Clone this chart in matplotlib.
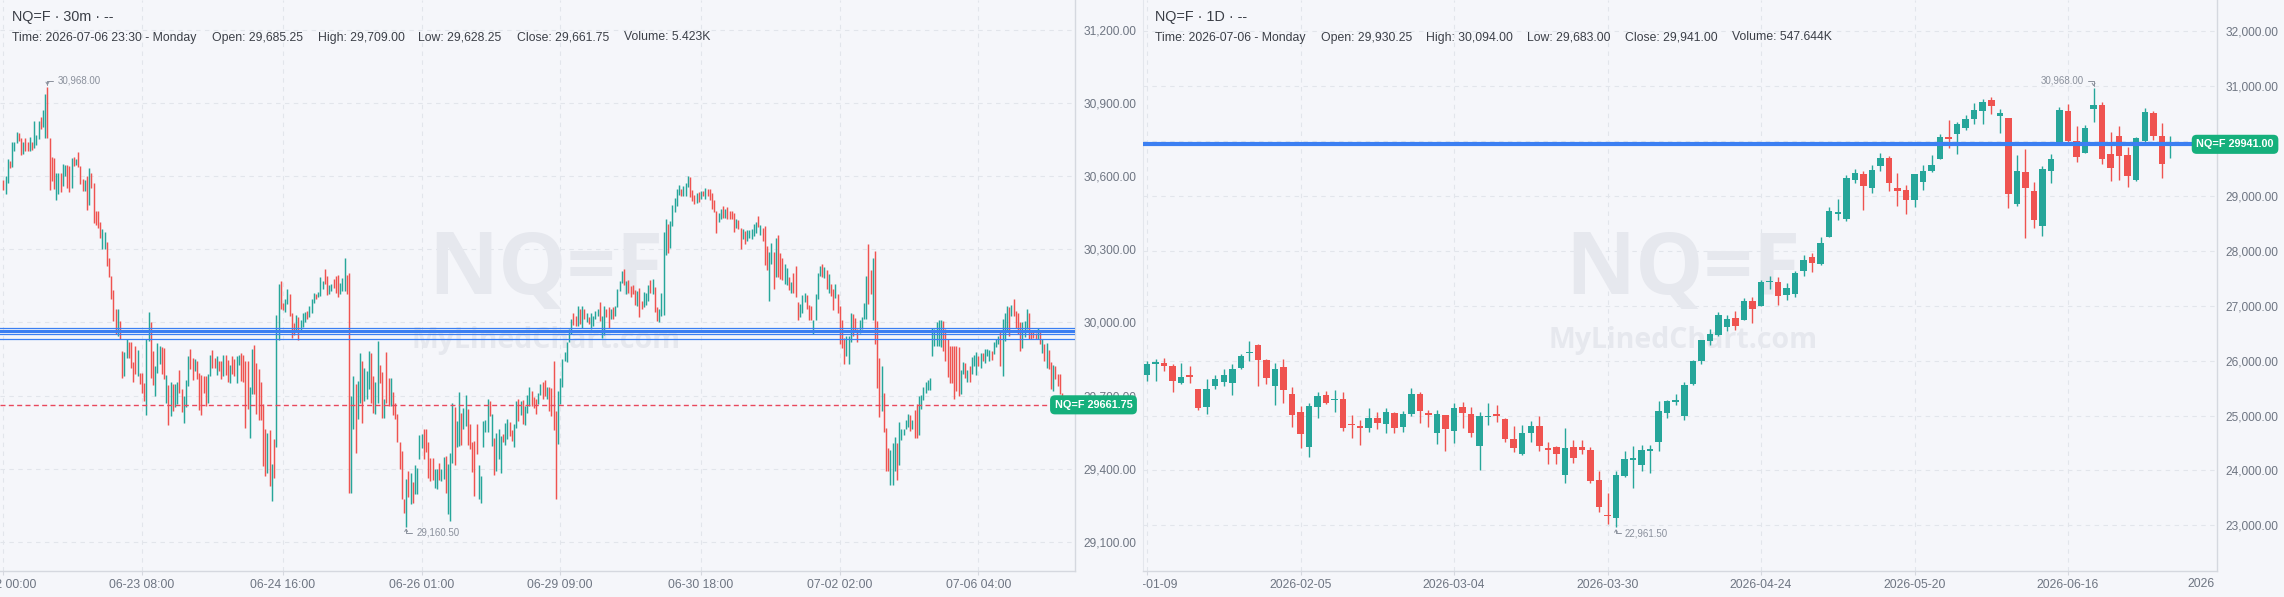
import matplotlib
matplotlib.use("Agg")
import matplotlib.pyplot as plt
import numpy as np
from matplotlib.transforms import Bbox, TransformedBbox

plt.rcParams["font.family"] = ["Liberation Sans", "DejaVu Sans"]

# ---------------- 30m chart (left) : bar high / low / up-bar flag ----------------
hi_30m = [
    30585, 30603, 30671, 30664, 30740, 30742, 30784, 30778, 30759, 30742,
    30756, 30740, 30764, 30742, 30829, 30770, 30829, 30845, 30874, 30938,
    30968, 30760, 30679, 30675, 30614, 30614, 30614, 30653, 30647, 30647,
    30644, 30675, 30678, 30671, 30699, 30644, 30589, 30585, 30600, 30636,
    30616, 30575, 30459, 30459, 30411, 30386, 30370, 30329, 30267, 30190,
    30133, 30055, 30055, 30007, 29883, 29877, 29934, 29918, 29918, 29836,
    29904, 29886, 29794, 29794, 29753, 29934, 30045, 30000, 29883, 29822,
    29914, 29904, 29900, 29897, 29783, 29742, 29756, 29746, 29746, 29757,
    29804, 29726, 29696, 29764, 29863, 29893, 29856, 29849, 29842, 29794,
    29783, 29781, 29781, 29788, 29866, 29886, 29856, 29863, 29842, 29840,
    29866, 29866, 29845, 29825, 29863, 29852, 29863, 29866, 29873, 29866,
    29841, 29840, 29733, 29893, 29907, 29833, 29808, 29756, 29664,
    29561, 29548, 29559, 29418, 29520, 30030, 30157, 30171, 30079, 30098,
    30137, 30116, 30041, 29996, 30030, 30023, 30009, 30038, 30045, 30048,
    30066, 30098, 30123, 30119, 30127, 30185, 30171, 30219, 30192, 30155,
    30160, 30178, 30192, 30194, 30164, 30182, 30264, 30194, 30205, 29699,
    29781, 29746, 29760, 29874, 29842, 29811, 29801, 29883, 29876, 29781,
    29756, 29924, 29824, 29797, 29687, 29879, 29774, 29774, 29716, 29671,
    29623, 29507, 29472, 29274, 29359, 29390, 29383, 29345, 29413, 29404,
    29537, 29541, 29564, 29561, 29507, 29445, 29445, 29400, 29400, 29424,
    29397, 29449, 29452, 29418, 29465, 29671, 29652, 29596, 29715, 29630,
    29650, 29701, 29644, 29582, 29509, 29514, 29582, 29413, 29370, 29596,
    29598, 29685, 29678, 29623, 29524, 29548, 29564, 29534, 29541, 29586,
    29605, 29591, 29559, 29582, 29678, 29685, 29678, 29682,
    29657, 29701, 29733, 29719, 29692, 29687, 29712, 29746, 29756, 29763,
    29733, 29733, 29729, 29842, 29637, 29719, 29774, 29849, 29877, 29918,
    29975, 30014, 30037, 30027, 30068, 30057, 30068, 30055, 30038, 30024,
    30041, 30027, 30048, 30055, 30086, 30027, 30066, 30057, 30062, 30057,
    30062, 30066, 30137, 30171, 30212, 30219, 30171, 30174, 30151, 30153,
    30133, 30130, 30140, 30089, 30126, 30120, 30153, 30175, 30178, 30144,
    30062, 30055, 30123, 30370, 30424, 30404, 30418, 30482, 30510, 30548,
    30564, 30548, 30562, 30575, 30603, 30596, 30545, 30523, 30534, 30537,
    30541, 30541, 30551, 30548, 30548, 30531, 30504, 30459, 30449, 30466,
    30479, 30468, 30473, 30459, 30459, 30449, 30424, 30422, 30390, 30383,
    30377, 30381, 30379, 30383, 30404, 30414, 30438, 30401, 30390, 30397,
    30315, 30288, 30326, 30288, 30346, 30359, 30285, 30263, 30240, 30222,
    30185, 30167, 30205, 30233, 30086,
    30075, 30112, 30120, 30112, 30073, 30068, 30010, 30116, 30205, 30233,
    30240, 30230, 30216, 30199, 30157, 30137, 30160, 30116, 30068, 30011,
    29938, 29945, 29945, 30038, 30034, 30018, 29975, 30011, 30023, 30079,
    30189, 30322, 30216, 30264, 30293, 30005, 29853, 29822, 29712, 29566,
    29486, 29476, 29504, 29530, 29504, 29591, 29564, 29564, 29600, 29623,
    29619, 29600, 29641, 29664, 29698, 29701, 29733, 29756, 29763, 29774,
    29979, 29975, 30003, 30011, 30011, 30007, 29972, 29934, 29904, 29904,
    29904, 29904, 29901, 29805, 29838, 29833, 29805, 29822, 29859, 29866,
    29879, 29863, 29876, 29876, 29890, 29893, 29887, 29883, 29918, 29934,
    29945, 29959, 30014, 30041, 30068, 30064, 30071, 30096, 30048, 30038,
    30000, 30003, 30007, 30055, 30038, 29970, 29962, 29956, 29978, 29959,
    29931, 29911, 29915, 29888, 29838, 29825, 29822, 29788, 29788, 29709,
]
lo_30m = [
    30545, 30527, 30575, 30633, 30637, 30705, 30736, 30747, 30689, 30694,
    30705, 30705, 30703, 30710, 30715, 30730, 30753, 30797, 30803, 30758,
    30760, 30545, 30582, 30548, 30504, 30527, 30538, 30562, 30603, 30553,
    30538, 30553, 30644, 30647, 30637, 30568, 30541, 30541, 30463, 30484,
    30551, 30408, 30401, 30390, 30349, 30301, 30304, 30233, 30185, 30096,
    30007, 29952, 29945, 29931, 29774, 29781, 29856, 29856, 29815, 29756,
    29788, 29781, 29746, 29712, 29678, 29619, 29925, 29774, 29742, 29698,
    29794, 29829, 29790, 29767, 29671, 29579, 29616, 29637, 29651, 29664,
    29712, 29633, 29589, 29651, 29740, 29808, 29764, 29801, 29767, 29641,
    29619, 29712, 29657, 29668, 29781, 29815, 29811, 29783, 29801, 29767,
    29781, 29783, 29756, 29753, 29788, 29781, 29753, 29825, 29760, 29756,
    29568, 29644, 29527, 29705, 29705, 29623, 29600, 29600, 29411,
    29370, 29383, 29328, 29267, 29363, 29489, 29929, 30055, 30052, 30045,
    30075, 30027, 29938, 29948, 29959, 29929, 29966, 29982, 30000, 30014,
    30021, 30041, 30082, 30098, 30105, 30109, 30137, 30157, 30113, 30116,
    30130, 30140, 30123, 30105, 30116, 30130, 30130, 30119, 29301, 29301,
    29561, 29465, 29602, 29671, 29589, 29678, 29685, 29726, 29671, 29627,
    29623, 29671, 29753, 29609, 29609, 29671, 29657, 29657, 29619, 29605,
    29507, 29400, 29274, 29219, 29160.5, 29281, 29253, 29260, 29294, 29294,
    29441, 29486, 29441, 29468, 29363, 29349, 29353, 29322, 29315, 29353,
    29349, 29359, 29301, 29212, 29185, 29422, 29413, 29490, 29493, 29497,
    29561, 29575, 29496, 29482, 29386, 29287, 29461, 29274, 29260, 29489,
    29552, 29550, 29616, 29493, 29372, 29390, 29438, 29383, 29507, 29496,
    29520, 29534, 29513, 29489, 29568, 29596, 29619, 29582,
    29578, 29627, 29657, 29657, 29650, 29623, 29664, 29701, 29685, 29699,
    29687, 29637, 29614, 29559, 29274, 29500, 29664, 29733, 29842, 29838,
    29918, 29952, 29989, 29986, 29986, 29993, 29979, 30014, 30000, 29993,
    29975, 29986, 30014, 30027, 30007, 29938, 29948, 30023, 29979, 30016,
    30014, 30027, 30062, 30130, 30164, 30155, 30116, 30123, 30103, 30116,
    30071, 30068, 30021, 30057, 30062, 30072, 30089, 30123, 30116, 30044,
    30007, 30000, 30027, 30031, 30277, 30287, 30308, 30397, 30452, 30479,
    30523, 30518, 30518, 30520, 30555, 30514, 30500, 30486, 30493, 30496,
    30507, 30518, 30507, 30520, 30504, 30466, 30452, 30367, 30411, 30427,
    30431, 30431, 30427, 30427, 30427, 30370, 30390, 30383, 30301, 30342,
    30322, 30336, 30349, 30342, 30356, 30367, 30394, 30360, 30336, 30237,
    30216, 30089, 30240, 30137, 30185, 30188, 30178, 30175, 30157, 30153,
    30134, 30123, 30123, 30103, 30009,
    30021, 30038, 30085, 30055, 30011, 30011, 29952, 30011, 30096, 30189,
    30185, 30182, 30137, 30123, 30107, 30052, 30099, 30041, 29911, 29897,
    29829, 29863, 29829, 29920, 29945, 29962, 29920, 29956, 29972, 30014,
    30014, 30075, 30116, 30011, 29911, 29729, 29612, 29637, 29551, 29390,
    29390, 29333, 29333, 29390, 29353, 29413, 29518, 29537, 29564, 29572,
    29555, 29564, 29527, 29526, 29537, 29644, 29682, 29712, 29722, 29722,
    29863, 29904, 29904, 29904, 29901, 29883, 29842, 29778, 29750, 29753,
    29685, 29719, 29696, 29708, 29790, 29770, 29756, 29756, 29788, 29822,
    29783, 29822, 29811, 29842, 29833, 29863, 29842, 29846, 29870, 29901,
    29911, 29822, 29781, 29924, 29966, 29945, 30027, 30027, 29979, 29952,
    29883, 29897, 29942, 29975, 29934, 29934, 29938, 29934, 29934, 29911,
    29874, 29842, 29815, 29808, 29726, 29719, 29767, 29740, 29705, 29628.25,
]
up_30m = [
    0, 1, 1, 0, 1, 1, 1, 0, 0, 1,  0, 0, 1, 0, 1, 1, 1, 0, 1, 1,
    0, 0, 0, 0, 1, 1, 0, 1, 1, 0,  0, 1, 0, 1, 0, 0, 0, 1, 0, 1,
    0, 0, 0, 0, 0, 1, 1, 0, 0, 0,  0, 0, 1, 0, 0, 1, 1, 0, 0, 0,
    0, 1, 0, 0, 0, 1, 1, 0, 0, 1,  1, 1, 0, 0, 1, 0, 1, 0, 1, 1,
    0, 0, 1, 1, 1, 0, 0, 1, 0, 0,  0, 0, 0, 1, 1, 0, 0, 1, 0, 0,
    1, 0, 0, 1, 0, 0, 1, 1, 0, 0,  0, 0, 1, 1, 0, 0, 0, 0, 0,
    0, 1, 0, 1, 0, 1, 1, 0, 0, 1,  1, 0, 0, 0, 1, 0, 1, 1, 1, 0,
    1, 1, 1, 0, 1, 1, 1, 0, 0, 1,  1, 0, 0, 0, 1, 1, 1, 0, 0, 1,
    1, 0, 1, 1, 0, 1, 1, 1, 0, 0,  1, 1, 0, 0, 1, 0, 0, 1, 0, 0,
    0, 0, 0, 0, 1, 0, 1, 0, 1, 1,  1, 1, 0, 0, 0, 0, 0, 1, 1, 0,
    1, 1, 0, 1, 1, 1, 0, 1, 1, 0,  1, 1, 0, 0, 0, 0, 0, 1, 1, 1,
    1, 1, 0, 1, 0, 1, 1, 1, 0, 1,  1, 0, 0, 1, 1, 0, 1, 0,
    1, 1, 1, 0, 0, 0, 1, 1, 0, 0,  1, 0, 0, 0, 0, 1, 1, 1, 1, 1,
    1, 1, 0, 0, 1, 0, 1, 0, 1, 0,  1, 1, 1, 1, 0, 1, 1, 0, 0, 1,
    0, 1, 1, 1, 1, 0, 1, 0, 0, 0,  0, 1, 0, 0, 1, 1, 1, 0, 1, 0,
    0, 1, 1, 1, 1, 0, 1, 1, 1, 1,  1, 0, 1, 1, 1, 0, 0, 0, 1, 0,
    1, 0, 1, 0, 0, 0, 0, 0, 1, 1,  0, 1, 0, 0, 0, 0, 1, 0, 0, 1,
    0, 1, 1, 1, 1, 1, 0, 1, 0, 0,  0, 1, 1, 0, 1, 0, 0, 0, 1, 1,
    0, 1, 0, 0, 0,
    1, 1, 1, 0, 0, 0, 1, 1, 1, 1,  0, 1, 0, 1, 0, 0, 1, 0, 0, 0,
    0, 1, 1, 1, 0, 0, 0, 1, 1, 1,  1, 0, 0, 1, 0, 0, 0, 1, 0, 0,
    0, 1, 1, 1, 0, 1, 1, 1, 1, 1,  0, 1, 0, 0, 1, 1, 1, 1, 1, 1,
    1, 1, 1, 1, 1, 0, 0, 0, 0, 0,  0, 0, 0, 1, 1, 0, 1, 0, 1, 1,
    1, 0, 1, 0, 1, 1, 1, 0, 1, 1,  1, 0, 1, 1, 1, 0, 1, 0, 0, 0,
    0, 1, 1, 1, 0, 0, 0, 0, 1, 0,  1, 0, 1, 0, 0, 1, 0, 0, 0, 0,
]
ticks_30m = [0, 63, 127, 190, 253, 317, 380, 443]
labels_30m = ["06-22 00:00", "06-23 08:00", "06-24 16:00", "06-26 01:00",
              "06-29 09:00", "06-30 18:00", "07-02 02:00", "07-06 04:00"]
levels_30m = [29979, 29966, 29952, 29934]   # blue horizontal lines
last_30m = 29661.75

# ---------------- 1D chart (right) : OHLC ----------------
o_1d = [
    25738, 25945, 25957, 25902, 25599, 25720, 25483, 25162, 25544, 25617,
    25599, 25860, 26133, 26285, 26012, 25544, 25884, 25392, 25064, 24433,
    25162, 25374, 25277, 25301, 24840, 24797, 24779, 24955, 24852, 25046,
    24797, 25034, 25392, 25028, 24688, 25004, 24724, 25156, 25028, 24451,
    24973, 25010, 24937, 24579, 24305, 24688, 24809, 24403, 24433, 23923,
    24427, 24427, 24372, 23826, 23188, 23140, 23905, 24196, 24105, 24360,
    24524, 25053, 25253, 24998, 25575, 25994, 26358, 26468, 26620, 26783,
    26741, 27087, 27002, 27427, 27427, 27196, 27214, 27633, 27889, 27761,
    28259, 28672, 28581, 29291, 29400, 29151, 29546, 29692, 29145, 29109,
    28927, 29261, 29455, 29674, 30062, 30129, 30240, 30406, 30545, 30746,
    30455, 30420, 28845, 29435, 29088, 28450, 29463, 29948, 30545, 30004,
    29775, 30593, 30656, 29768, 30094, 29747, 29296, 30004, 30517, 30094,
    29930.25,
]
h_1d = [
    25993, 26024, 26048, 25939, 25963, 25902, 25483, 25666, 25738, 25848,
    25939, 26121, 26358, 26303, 26024, 25951, 26030, 25514, 25174, 25234,
    25423, 25447, 25465, 25423, 25010, 24919, 25137, 25058, 25137, 25064,
    25083, 25502, 25423, 25101, 25101, 25004, 25228, 25247, 25156, 25064,
    25228, 25192, 24955, 24809, 24828, 24901, 24992, 24512, 24451, 24773,
    24554, 24554, 24427, 23990, 23595, 23990, 24354, 24451, 24463, 24463,
    25265, 25283, 25393, 25605, 26012, 26377, 26571, 26880, 26832, 26905,
    27136, 27154, 27469, 27542, 27518, 27409, 27633, 27925, 27955, 28247,
    28793, 28945, 29382, 29491, 29455, 29564, 29777, 29728, 29413, 29200,
    29400, 29564, 29747, 30129, 30384, 30354, 30480, 30697, 30767, 30801,
    30593, 30420, 29740, 29865, 29255, 29539, 29768, 30614, 30677, 30281,
    30295, 30968, 30711, 30163, 30281, 29900, 30073, 30607, 30545, 30337,
    30094,
]
l_1d = [
    25635, 25635, 25817, 25435, 25575, 25599, 25101, 25028, 25483, 25538,
    25374, 25842, 25999, 25538, 25575, 25192, 25234, 24797, 24415, 24251,
    24961, 25210, 25071, 24724, 24597, 24469, 24706, 24761, 24688, 24688,
    24706, 24998, 24870, 24797, 24488, 24360, 24506, 24779, 24615, 24014,
    24828, 24888, 24524, 24342, 24287, 24524, 24360, 24123, 24123, 23777,
    24142, 24305, 23777, 23249, 23030, 22961.5, 23887, 23686, 23996, 23959,
    24360, 24962, 25193, 24919, 25557, 25939, 26286, 26449, 26547, 26559,
    26741, 26692, 26996, 27306, 27014, 27105, 27166, 27542, 27621, 27743,
    28259, 28563, 28550, 29242, 28745, 29060, 29461, 29091, 28818, 28672,
    28805, 29109, 29437, 29674, 29880, 29765, 30200, 30316, 30316, 30489,
    30156, 28790, 28818, 28235, 28422, 28270, 29241, 29948, 29990, 29622,
    29775, 30351, 29588, 29275, 29296, 29171, 29282, 29990, 30018, 29324,
    29683,
]
c_1d = [
    25939, 25963, 25908, 25635, 25702, 25708, 25143, 25483, 25666, 25738,
    25848, 26085, 26157, 26012, 25690, 25848, 25471, 25016, 24670, 25174,
    25356, 25234, 25301, 24779, 24822, 24779, 24955, 24870, 25058, 24779,
    25028, 25392, 25089, 25010, 25028, 24761, 25137, 25052, 24688, 24992,
    24992, 24992, 24579, 24415, 24682, 24809, 24451, 24378, 24305, 24409,
    24233, 24378, 23814, 23340, 23164, 23917, 24208, 24220, 24372, 24372,
    25083, 25265, 25283, 25557, 25994, 26377, 26486, 26832, 26759, 26638,
    27087, 26941, 27439, 27457, 27184, 27318, 27591, 27834, 27785, 28144,
    28726, 28702, 29334, 29419, 29188, 29473, 29692, 29243, 29097, 28927,
    29400, 29455, 29564, 30080, 30038, 30311, 30410, 30559, 30711, 30642,
    30503, 29033, 29449, 29137, 28561, 29483, 29671, 30566, 30004, 29705,
    30246, 30656, 29671, 29518, 29726, 29366, 30059, 30531, 30094, 29574,
    29941,
]
ticks_1d = [0, 18, 36, 54, 72, 90, 108]
labels_1d = ["2026-01-09", "2026-02-05", "2026-03-04", "2026-03-30",
             "2026-04-24", "2026-05-20", "2026-06-16"]
level_1d = 29945

head_30m = [("Time: 2026-07-06 23:30 - Monday", 12), ("Open: 29,685.25", 212),
            ("High: 29,709.00", 317.5), ("Low: 29,628.25", 418),
            ("Close: 29,661.75", 517), ("Volume: 5.423K", 624)]
head_1d = [("Time: 2026-07-06 - Monday", 1155), ("Open: 29,930.25", 1321),
           ("High: 30,094.00", 1426), ("Low: 29,683.00", 1527),
           ("Close: 29,941.00", 1625), ("Volume: 547.644K", 1732)]

# ---------------- style ----------------
W, H = 2284, 597
BG = "#f5f6fa"
UP, DOWN = "#26a69a", "#ef5350"
GRID = "#e2e5eb"
SPINE = "#d5d8df"
TXT = "#6e7582"
HEAD = "#3b3f47"
ANN = "#8a909c"
BLUE = "#3b7ff2"
TAG = "#15b07c"
WM = "#e6e8ee"

fig = plt.figure(figsize=(W / 100, H / 100), dpi=100, facecolor=BG)
ax1 = fig.add_axes([0, 1 - 571 / H, 1075 / W, 571 / H])
ax2 = fig.add_axes([1143 / W, 1 - 571 / H, 1074 / W, 571 / H])


def base_style(ax, yticks):
    ax.set_facecolor(BG)
    for s in ("top", "left"):
        ax.spines[s].set_visible(False)
    for s in ("right", "bottom"):
        ax.spines[s].set_color(SPINE)
        ax.spines[s].set_linewidth(1)
    ax.yaxis.tick_right()
    ax.set_yticks(yticks)
    ax.set_yticklabels([f"{v:,.2f}" for v in yticks])
    ax.tick_params(axis="y", length=0, pad=6, labelsize=8.6, labelcolor=TXT)
    ax.tick_params(axis="x", length=3, width=0.8, color=SPINE, pad=3,
                   labelsize=8.7, labelcolor=TXT)
    ax.grid(True, color=GRID, lw=0.8, ls=(0, (4, 4)))
    ax.set_axisbelow(True)


def watermark(ax, cx):
    ax.text(cx, 0.525, "NQ=F", transform=ax.transAxes, ha="center", va="center",
            fontsize=62, fontweight="bold", family="Open Sans", color=WM, zorder=0.6)
    ax.text(cx, 0.403, "MyLinedChart.com", transform=ax.transAxes, ha="center",
            va="center", fontsize=20.5, fontweight="bold", family="Open Sans",
            color=WM, zorder=0.6)


def mark(ax, x, y, dx, dy, ha):
    ax.annotate(f"{y:,.2f}", xy=(x, y), xytext=(dx, dy), textcoords="offset pixels",
                ha=ha, va="center", fontsize=7, color=ANN, annotation_clip=False,
                arrowprops=dict(arrowstyle="->,head_length=0.25,head_width=0.15",
                                color=ANN, lw=0.7, shrinkA=1, shrinkB=1,
                                connectionstyle="angle,angleA=0,angleB=90,rad=0"))


def price_tag(ax, xfrac, y, text):
    ax.text(xfrac, y, text, transform=ax.get_yaxis_transform(), ha="center",
            va="center", color="white", fontsize=7.8, fontweight="bold",
            clip_on=False, zorder=6,
            bbox=dict(boxstyle="round,pad=0.42,rounding_size=0.45", fc=TAG, ec="none"))


# ---------------- left: 30m ----------------
n = len(hi_30m)
x30 = np.arange(n)
ppb = (1062 - 3.4) / (n - 1)
base_style(ax1, [29100, 29400, 29700, 30000, 30300, 30600, 30900, 31200])
ax1.set_xlim(-3.4 / ppb, (1075 - 3.4) / ppb)
ax1.set_ylim(28979, 31325)
ax1.set_xticks(ticks_30m)
ax1.set_xticklabels(labels_30m)
watermark(ax1, 0.508)
cols30 = [UP if u else DOWN for u in up_30m]
ax1.vlines(x30, lo_30m, hi_30m, colors=cols30, lw=1.05, zorder=2)
for lv, lw in zip(levels_30m, [0.9, 2.2, 0.9, 0.9]):
    ax1.axhline(lv, color=BLUE, lw=lw, zorder=4)
ax1.axhline(last_30m, color="#e8485c", lw=1.0, ls=(0, (3.6, 2.4)), zorder=4)
i_hi = int(np.argmax(hi_30m))
i_lo = int(np.argmin(lo_30m))
mark(ax1, i_hi, hi_30m[i_hi], 10, 6, "left")
mark(ax1, i_lo, lo_30m[i_lo], 10, -6, "left")
price_tag(ax1, 1.0172, last_30m, f"NQ=F {last_30m:.2f}")

# ---------------- right: 1D ----------------
base_style(ax2, [23000, 24000, 25000, 26000, 27000, 28000, 29000, 30000, 31000, 32000])
ax2.set_xlim(-0.47, 125.47)
ax2.set_ylim(22169, 32570)
ax2.spines["left"].set_visible(True)
ax2.spines["left"].set_color("#e3e6ec")
ax2.set_xticks(ticks_1d)
ax2.set_xticklabels(labels_1d)
clip = TransformedBbox(Bbox([[1143 / W, 0], [1, 1]]), fig.transFigure)
for lab in ax2.get_xticklabels():
    lab.set_clip_box(clip)
ax2.text(0.998, -0.0236, "2026", transform=ax2.transAxes, ha="right", va="center",
         fontsize=8.7, color=TXT, clip_on=False)
watermark(ax2, 0.503)
o = np.array(o_1d, float)
c = np.array(c_1d, float)
xd = np.arange(len(o))
cols1 = [UP if cc >= oo else DOWN for oo, cc in zip(o, c)]
ax2.vlines(xd, l_1d, h_1d, colors=cols1, lw=1.0, zorder=2)
bottom = np.minimum(o, c)
height = np.maximum(np.abs(c - o), 28)
ax2.bar(xd, height, bottom=bottom, width=0.76, color=cols1, linewidth=0, zorder=3)
ax2.axhline(level_1d, color=BLUE, lw=3.0, zorder=4)
j_hi = int(np.argmax(h_1d))
j_lo = int(np.argmin(l_1d))
mark(ax2, j_hi, h_1d[j_hi], -10, 7, "right")
mark(ax2, j_lo, l_1d[j_lo], 9, -6, "left")
price_tag(ax2, 1.0168, c_1d[-1], f"NQ=F {c_1d[-1]:.2f}")

# ---------------- headers ----------------
fig.text(12 / W, 1 - 17 / H, "NQ=F · 30m · --", fontsize=10.4, color=HEAD, va="center")
fig.text(1155 / W, 1 - 17 / H, "NQ=F · 1D · --", fontsize=10.4, color=HEAD, va="center")
for text, xp in head_30m + head_1d:
    fig.text(xp / W, 1 - 37.5 / H, text, fontsize=8.8, color=HEAD, va="center")

fig.savefig("out.png", dpi=100, facecolor=BG)
